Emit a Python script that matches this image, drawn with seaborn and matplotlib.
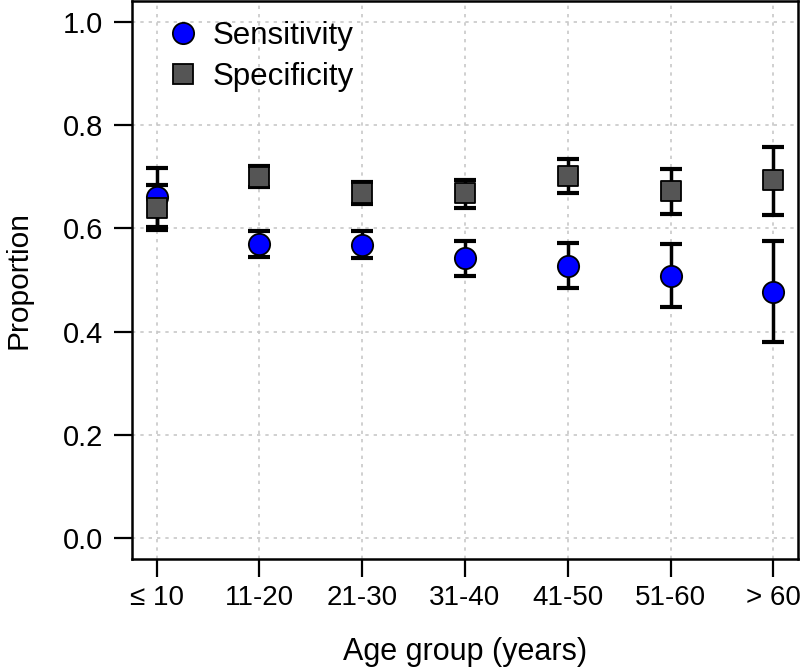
import numpy as np
import pandas as pd
import matplotlib
matplotlib.use("Agg")
import matplotlib.pyplot as plt
from matplotlib.lines import Line2D
import seaborn as sns

# ---- data ----
age_groups = ["\u2264 10", "11-20", "21-30", "31-40", "41-50", "51-60", "> 60"]
sens = [0.660, 0.569, 0.568, 0.542, 0.528, 0.508, 0.477]
sens_lo = [0.603, 0.544, 0.543, 0.508, 0.485, 0.447, 0.380]
sens_hi = [0.716, 0.594, 0.594, 0.576, 0.571, 0.570, 0.576]
spec = [0.640, 0.700, 0.668, 0.668, 0.701, 0.672, 0.694]
spec_lo = [0.597, 0.680, 0.648, 0.639, 0.668, 0.628, 0.625]
spec_hi = [0.684, 0.720, 0.689, 0.693, 0.734, 0.714, 0.757]
y_ticks = [0.0, 0.2, 0.4, 0.6, 0.8, 1.0]

sns.set_theme(style="white")
plt.rcParams["font.family"] = ["Liberation Sans", "DejaVu Sans"]
plt.rcParams["text.color"] = "black"
plt.rcParams["axes.labelcolor"] = "black"

pos = np.arange(len(age_groups))
df = pd.DataFrame({
    "pos": np.concatenate([pos, pos]),
    "value": sens + spec,
    "lo": sens_lo + spec_lo,
    "hi": sens_hi + spec_hi,
    "measure": ["Sensitivity"] * len(pos) + ["Specificity"] * len(pos),
})

fig = plt.figure(figsize=(8.0, 6.68), dpi=100)
ax = fig.add_axes([0.165, 0.1632, 0.8325, 0.8353])

# grid
for p in pos:
    ax.axvline(p, color="#c8c8c8", lw=1.2, ls=(0, (2, 3)), zorder=0)
for t in y_ticks:
    ax.axhline(t, color="#c8c8c8", lw=1.2, ls=(0, (2, 3)), zorder=0)

# error bars
for name in ["Sensitivity", "Specificity"]:
    d = df[df.measure == name]
    ax.errorbar(d["pos"], d["value"],
                yerr=[d["value"] - d["lo"], d["hi"] - d["value"]],
                fmt="none", ecolor="black", elinewidth=2.5,
                capsize=8, capthick=3.0, zorder=2)

# points
d1 = df[df.measure == "Sensitivity"]
d2 = df[df.measure == "Specificity"]
sns.scatterplot(data=d1, x="pos", y="value", marker="o", s=235,
                color="#0000ff", edgecolor="black", linewidth=1.3,
                ax=ax, zorder=3, legend=False)
sns.scatterplot(data=d2, x="pos", y="value", marker="s", s=190,
                color="#555555", edgecolor="black", linewidth=1.3,
                ax=ax, zorder=4, legend=False)

ax.set_xlim(-0.24, 6.24)
ax.set_ylim(-0.04, 1.04)
ax.set_xticks(pos)
ax.set_xticklabels(age_groups)
ax.set_yticks(y_ticks)
ax.set_yticklabels([f"{t:.1f}" for t in y_ticks])
ax.tick_params(axis="x", labelsize=20, length=13, width=1.6, pad=6,
               color="black", labelcolor="black", direction="out", bottom=True)
ax.tick_params(axis="y", labelsize=21, length=13, width=1.6, pad=8,
               color="black", labelcolor="black", direction="out", left=True)
for s in ax.spines.values():
    s.set_color("black")
    s.set_linewidth(1.8)
    s.set_visible(True)

ax.set_xlabel("Age group (years)", fontsize=22, color="black")
ax.set_ylabel("Proportion", fontsize=21.5, color="black")
ax.xaxis.set_label_coords(0.5, -0.14)
ax.yaxis.set_label_coords(-0.150, 0.5)

handles = [
    Line2D([], [], marker="o", ls="none", markersize=15.3,
           markerfacecolor="#0000ff", markeredgecolor="black", markeredgewidth=1.3),
    Line2D([], [], marker="s", ls="none", markersize=13.8,
           markerfacecolor="#555555", markeredgecolor="black", markeredgewidth=1.3),
]
leg = ax.legend(handles, ["Sensitivity", "Specificity"], loc="upper left",
                bbox_to_anchor=(0.0526, 0.9635), borderaxespad=0, borderpad=0,
                frameon=False, fontsize=22.5, handlelength=1.0, handletextpad=0.45,
                labelspacing=0.33)
for t in leg.get_texts():
    t.set_color("black")

fig.savefig("out.png", dpi=100)
